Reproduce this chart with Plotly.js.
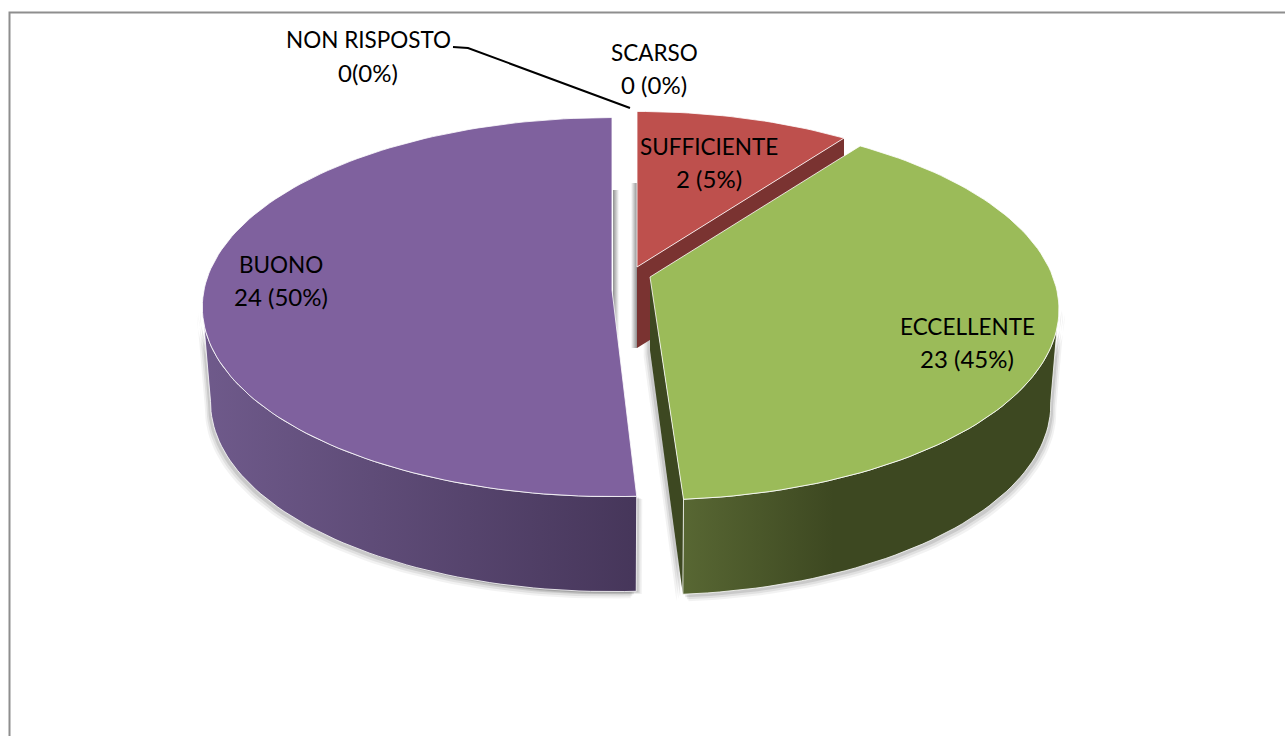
<!DOCTYPE html>
<html>
<head>
<meta charset="utf-8">
<script src="https://cdn.plot.ly/plotly-3.0.1.min.js"></script>
<style>html,body{margin:0;padding:0;background:#fff;overflow:hidden}</style>
</head>
<body>
<div id="chart" style="width:1285px;height:736px"></div>
<script>
// ---- data ----
const categories  = ['NON RISPOSTO', 'SCARSO', 'SUFFICIENTE', 'ECCELLENTE', 'BUONO'];
const valueLabels = ['0(0%)', '0 (0%)', '2 (5%)', '23 (45%)', '24 (50%)'];
// share of the circle each slice occupies as drawn (percent)
const drawnShares = [0, 0, 10.1, 38.8, 51.1];

// ---- styling / layout ----
const topColors  = [null, null, '#BE504D', '#9BBB59', '#7F619E'];
const wallLeft   = [null, null, '#7A3331', '#586733', '#6F5A8B'];
const wallRight  = [null, null, '#7A3331', '#3D4821', '#46365A'];
const apexX      = [0, 0, 637, 650, 612];
const apexY      = [0, 0, 267, 277, 290];
const radiusX    = [0, 0, 397, 403, 408];
const radiusY    = [0, 0, 182, 185, 188];
const persp      = [0, 0, 0.17, 0.17, 0.09];
const depth      = [0, 0, 81, 95, 95];
const apexDepth  = [0, 0, 81, 73, 95];
const startTrim  = [0, 0, 0, 0, 0.8];
const labelX     = [368, 654, 709, 967, 281];
const nameY      = [39, 52, 146, 326, 264];
const valueY     = [72, 84, 178, 358, 296];
const leaderX    = [453, 468, 630];
const leaderY    = [47, 48, 108];
const FONT = 'Lato, Carlito, sans-serif';
const NAME_SIZE = 22.5, VALUE_SIZE = 24;

function rim(i, deg, wall) {
  const t = deg * Math.PI / 180, u = Math.sin(t), v = Math.cos(t);
  const w = 1 + persp[i] * v;
  const sx = wall ? 0.98 : 1;
  return [apexX[i] + sx * radiusX[i] * u / w,
          apexY[i] - radiusY[i] * v / w + (wall ? depth[i] : 0)];
}
function arc(i, a, b, wall) {
  const pts = [], n = Math.max(2, Math.ceil(Math.abs(b - a) / 1.5));
  for (let k = 0; k <= n; k++) pts.push(rim(i, a + (b - a) * k / n, wall));
  return pts;
}
function poly(pts, extra) {
  return Object.assign({
    type: 'scatter', mode: 'lines', hoverinfo: 'skip', showlegend: false, fill: 'toself',
    x: pts.map(p => p[0]).concat([pts[0][0]]),
    y: pts.map(p => p[1]).concat([pts[0][1]])
  }, extra);
}
const edge = {color: 'rgba(255,255,255,0.8)', width: 1};
const noEdge = {color: 'rgba(0,0,0,0)', width: 0};

// slice boundaries (degrees clockwise from 12 o'clock)
const starts = [], ends = [];
drawnShares.reduce((acc, s, i) => {
  starts[i] = acc + startTrim[i]; ends[i] = acc + s * 3.6; return ends[i];
}, 0);

const traces = [];
const I_RED = 2, I_GREEN = 3, I_PURPLE = 4;

// outer wall spans visible per slice
const outer = {};
outer[I_GREEN]  = [ends[I_GREEN], 99];
outer[I_PURPLE] = [starts[I_PURPLE], 265];

function wallPts(i) {
  const [a, b] = outer[i];
  return arc(i, a, b, false).concat(arc(i, b, a, true));
}
const gA = [apexX[I_GREEN], apexY[I_GREEN]];
const gA2 = [apexX[I_GREEN], apexY[I_GREEN] + apexDepth[I_GREEN]];
const gB = rim(I_GREEN, ends[I_GREEN], false), gC = rim(I_GREEN, ends[I_GREEN], true);
const greenInner = [gA, gB, gC, gA2];

// soft shadows under the outer walls
[[7, 0.05], [5, 0.07], [3, 0.10]].forEach(([d, o]) => {
  const fill = `rgba(0,0,0,${o})`;
  traces.push(poly(wallPts(I_GREEN).map(p => [p[0] + d * 0.8, p[1] + d]), {fillcolor: fill, line: noEdge}));
  traces.push(poly(wallPts(I_PURPLE).map(p => [p[0] - d * 0.8, p[1] + d]), {fillcolor: fill, line: noEdge}));
  traces.push(poly(wallPts(I_PURPLE).map(p => [p[0] + d * 0.8, p[1] + d * 0.4]), {fillcolor: fill, line: noEdge}));
  traces.push(poly(greenInner.map(p => [p[0] - d * 0.9, p[1] + d]), {fillcolor: fill, line: noEdge}));
});
// shadow strips in the gap between the purple and red slices
function strip(x0, x1, y0, y1, c0, c1) {
  return poly([[x0, y0], [x1, y0], [x1, y1], [x0, y1]], {
    line: noEdge,
    fillgradient: {type: 'horizontal', colorscale: [[0, c0], [1, c1]]}
  });
}
traces.push(strip(apexX[I_PURPLE] + 1, apexX[I_PURPLE] + 7, apexY[I_PURPLE] - 100, apexY[I_PURPLE] + 55, '#8f8f8f', '#ffffff'));
traces.push(strip(apexX[I_RED] - 6, apexX[I_RED], apexY[I_RED] - 84, apexY[I_RED] + depth[I_RED], '#ffffff', '#8f8f8f'));

// red slice: inner wall then top (the wall's lower edge runs on under the green slice)
const rA = [apexX[I_RED], apexY[I_RED]], rB = rim(I_RED, ends[I_RED], false);
traces.push(poly([rA, rB, [rB[0], rB[1] + depth[I_RED]], [rA[0], rA[1] + depth[I_RED]]],
  {fillcolor: wallLeft[I_RED], line: noEdge}));
traces.push(poly([rA].concat(arc(I_RED, starts[I_RED], ends[I_RED], false)),
  {fillcolor: topColors[I_RED], line: edge}));

// green slice: inner wall, outer wall, top
traces.push(poly(greenInner, {fillcolor: wallRight[I_GREEN], line: noEdge}));
traces.push(poly(wallPts(I_GREEN), {
  line: edge,
  fillgradient: {type: 'horizontal', colorscale: [[0, wallLeft[I_GREEN]], [0.4, wallRight[I_GREEN]], [1, wallRight[I_GREEN]]]}
}));
traces.push(poly([gA].concat(arc(I_GREEN, starts[I_GREEN], ends[I_GREEN], false)),
  {fillcolor: topColors[I_GREEN], line: edge}));

// purple slice: outer wall, top
const pA = [apexX[I_PURPLE], apexY[I_PURPLE]];
traces.push(poly(wallPts(I_PURPLE), {
  line: edge,
  fillgradient: {type: 'horizontal', colorscale: [[0, wallLeft[I_PURPLE]], [1, wallRight[I_PURPLE]]]}
}));
traces.push(poly([pA].concat(arc(I_PURPLE, starts[I_PURPLE], ends[I_PURPLE], false)),
  {fillcolor: topColors[I_PURPLE], line: edge}));

// leader line for NON RISPOSTO
traces.push({type: 'scatter', mode: 'lines', hoverinfo: 'skip', showlegend: false,
  x: leaderX, y: leaderY, line: {color: '#000', width: 2}});

const annotations = [];
categories.forEach((c, i) => {
  [[c, nameY[i], NAME_SIZE], [valueLabels[i], valueY[i], VALUE_SIZE]].forEach(([text, y, size]) => {
    annotations.push({xref: 'x', yref: 'y', x: labelX[i], y, text, showarrow: false,
      xanchor: 'center', yanchor: 'middle', font: {family: FONT, size, color: '#000'}});
  });
});

const layout = {
  width: 1285, height: 736,
  margin: {l: 0, r: 0, t: 0, b: 0},
  paper_bgcolor: '#fff', plot_bgcolor: '#fff',
  xaxis: {range: [0, 1285], visible: false, fixedrange: true},
  yaxis: {range: [736, 0], visible: false, fixedrange: true},
  showlegend: false,
  annotations,
  shapes: [{type: 'rect', xref: 'x', yref: 'y', x0: 9.5, y0: 12.5, x1: 1400, y1: 800,
    line: {color: '#8E8E8E', width: 2}, fillcolor: 'rgba(0,0,0,0)', layer: 'below'}]
};
Plotly.newPlot('chart', traces, layout, {displayModeBar: false, staticPlot: true});
</script>
</body>
</html>
